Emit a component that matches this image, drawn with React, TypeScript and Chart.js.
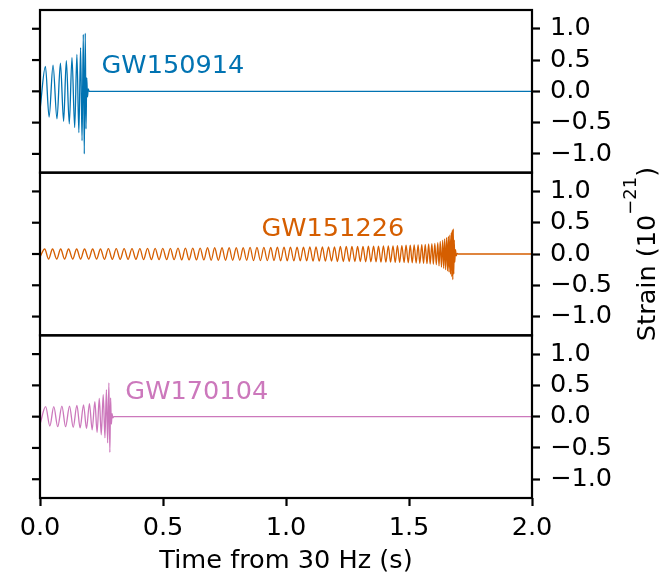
import React, { useEffect, useRef } from 'react';
import { Chart, registerables } from 'chart.js';

Chart.register(...registerables);

// ---------- data ----------
const xTicks = [0.0, 0.5, 1.0, 1.5, 2.0];
const yTicks = [-1.0, -0.5, 0.0, 0.5, 1.0];
const eventNames = ['GW150914', 'GW151226', 'GW170104'];

// GW150914: extrema of the waveform (time in s, strain in 1e-21)
const gw150914Time = [
  0.0, 0.022, 0.037, 0.053, 0.069, 0.083, 0.096, 0.107, 0.119, 0.13, 0.141, 0.15,
  0.158, 0.165, 0.171, 0.176, 0.18, 0.184, 0.187, 0.19, 0.193, 0.196, 0.2, 2.0,
];
const gw150914Strain = [
  -0.3, 0.4, -0.41, 0.42, -0.44, 0.45, -0.48, 0.49, -0.52, 0.54, -0.58, 0.59,
  -0.66, 0.7, -0.79, 0.91, -1.0, 0.93, -0.6, 0.22, -0.09, 0.04, 0.0, 0.0,
];

// GW151226
const gw151226Time = [
  0.0, 0.019, 0.035, 0.051, 0.068, 0.084, 0.1, 0.116, 0.133, 0.149, 0.165, 0.181,
  0.198, 0.214, 0.23, 0.246, 0.262, 0.278, 0.294, 0.31, 0.326, 0.342, 0.358, 0.374,
  0.39, 0.406, 0.421, 0.437, 0.453,
  0.468, 0.484, 0.499, 0.515, 0.53, 0.545, 0.561, 0.576, 0.591, 0.606, 0.621, 0.636,
  0.651, 0.666, 0.681, 0.696, 0.71, 0.725, 0.74, 0.754, 0.769, 0.783, 0.798, 0.812,
  0.826, 0.84, 0.854, 0.868, 0.882,
  0.896, 0.91, 0.924, 0.938, 0.951, 0.965, 0.978, 0.992, 1.005, 1.018, 1.032, 1.045,
  1.058, 1.071, 1.084, 1.097, 1.11, 1.122, 1.135, 1.148, 1.16, 1.173, 1.185, 1.197,
  1.209, 1.221, 1.233, 1.245, 1.257, 1.268, 1.28, 1.291, 1.302,
  1.313, 1.324, 1.335, 1.345, 1.356, 1.366, 1.376, 1.386, 1.396, 1.406, 1.416, 1.425,
  1.435, 1.444, 1.453, 1.462, 1.471, 1.48, 1.488, 1.497, 1.505,
  1.513, 1.521, 1.529, 1.537, 1.544, 1.552, 1.559, 1.566, 1.573, 1.58, 1.586, 1.593,
  1.599, 1.605, 1.611,
  1.617, 1.622, 1.627, 1.632, 1.637, 1.641, 1.645, 1.649, 1.653, 1.657, 1.66, 1.663,
  1.666, 1.669, 1.672, 1.674, 1.676, 1.678, 1.68, 1.682, 1.684, 1.686, 1.689, 1.692,
  1.696, 1.7, 2.0,
];
const gw151226Strain = [
  -0.05, 0.08, -0.08, 0.08, -0.08, 0.08, -0.08, 0.08, -0.08, 0.08, -0.08, 0.08,
  -0.08, 0.08, -0.08, 0.08, -0.085, 0.085, -0.085, 0.085, -0.085, 0.085, -0.085, 0.085,
  -0.085, 0.085, -0.09, 0.09, -0.09,
  0.09, -0.09, 0.09, -0.09, 0.09, -0.09, 0.095, -0.095, 0.095, -0.095, 0.095, -0.095,
  0.095, -0.095, 0.1, -0.1, 0.1, -0.1, 0.1, -0.1, 0.1, -0.1, 0.1, -0.1,
  0.1, -0.1, 0.105, -0.105, 0.105,
  -0.105, 0.105, -0.105, 0.105, -0.105, 0.11, -0.11, 0.11, -0.11, 0.11, -0.11, 0.11,
  -0.11, 0.11, -0.11, 0.115, -0.115, 0.115, -0.115, 0.115, -0.115, 0.115, -0.115, 0.115,
  -0.12, 0.12, -0.12, 0.12, -0.12, 0.12, -0.12, 0.12, -0.12,
  0.12, -0.125, 0.125, -0.125, 0.125, -0.125, 0.125, -0.13, 0.13, -0.13, 0.13, -0.13,
  0.13, -0.135, 0.135, -0.135, 0.135, -0.135, 0.14, -0.14, 0.14,
  -0.14, 0.145, -0.145, 0.145, -0.15, 0.15, -0.15, 0.155, -0.155, 0.16, -0.16, 0.165,
  -0.165, 0.17, -0.17,
  0.18, -0.19, 0.2, -0.21, 0.22, -0.23, 0.24, -0.25, 0.26, -0.27, 0.28, -0.29,
  0.3, -0.32, 0.34, -0.36, 0.38, -0.41, 0.4, -0.32, 0.22, -0.13, 0.07, -0.03,
  0.01, 0.0, 0.0,
];

// GW170104
const gw170104Time = [
  0.0, 0.023, 0.04, 0.056, 0.072, 0.089, 0.104, 0.12, 0.135, 0.15, 0.163, 0.177,
  0.189, 0.201, 0.212, 0.223, 0.232, 0.241, 0.249, 0.257, 0.264, 0.27, 0.275, 0.28,
  0.284, 0.287, 0.29, 0.293, 0.296, 0.3, 2.0,
];
const gw170104Strain = [
  -0.12, 0.16, -0.15, 0.16, -0.16, 0.17, -0.16, 0.17, -0.17, 0.18, -0.18, 0.19,
  -0.19, 0.21, -0.21, 0.24, -0.25, 0.29, -0.29, 0.35, -0.34, 0.43, -0.42, 0.54,
  -0.57, 0.3, -0.12, 0.05, -0.02, 0.0, 0.0,
];

// ---------- styling ----------
const FONT = "'DejaVu Sans', 'Liberation Sans', sans-serif";
const FS = 25.6;
const COLORS = ['#0173B2', '#D55E00', '#CC78BC'];
const LABEL_POS = [
  { t: 0.25, s: 0.29 },
  { t: 0.9, s: 0.28 },
  { t: 0.347, s: 0.29 },
];
const PANEL_IDS = ['y1', 'y2', 'y3'];

const fmt = (v: number) => Number(v).toFixed(1).replace('-', '\u2212');

const panelsPlugin = {
  id: 'panelsPlugin',
  afterDraw(chart: any) {
    const ctx = chart.ctx as CanvasRenderingContext2D;
    const { left, right, top, bottom } = chart.chartArea;
    const xs = chart.scales.x;
    ctx.save();
    ctx.strokeStyle = '#000';
    ctx.lineWidth = 2.2;
    PANEL_IDS.forEach((id, i) => {
      const s = chart.scales[id];
      ctx.strokeRect(left, s.top, right - left, s.bottom - s.top);
      yTicks.forEach((v) => {
        const py = s.getPixelForValue(v);
        ctx.beginPath();
        ctx.moveTo(left - 8, py);
        ctx.lineTo(left, py);
        ctx.stroke();
      });
      // event label
      ctx.font = `${FS}px ${FONT}`;
      ctx.fillStyle = COLORS[i];
      ctx.textAlign = 'left';
      ctx.textBaseline = 'alphabetic';
      ctx.fillText(
        eventNames[i],
        xs.getPixelForValue(LABEL_POS[i].t),
        s.getPixelForValue(LABEL_POS[i].s)
      );
    });

    // right axis title with superscript
    const main = `${FS}px ${FONT}`;
    const sup = `${FS * 0.7}px ${FONT}`;
    const t1 = 'Strain (10';
    const t2 = '\u221221';
    const t3 = ')';
    ctx.font = main;
    const w1 = ctx.measureText(t1).width;
    const w3 = ctx.measureText(t3).width;
    ctx.font = sup;
    const w2 = ctx.measureText(t2).width;
    const total = w1 + w2 + w3;
    ctx.translate(right + 123, (top + bottom) / 2);
    ctx.rotate(-Math.PI / 2);
    ctx.fillStyle = '#000';
    ctx.textAlign = 'left';
    ctx.textBaseline = 'alphabetic';
    const x0 = -total / 2;
    ctx.font = main;
    ctx.fillText(t1, x0, 0);
    ctx.font = sup;
    ctx.fillText(t2, x0 + w1, -19);
    ctx.font = main;
    ctx.fillText(t3, x0 + w1 + w2, 0);
    ctx.restore();
  },
};

const toPoints = (ts: number[], vs: number[]) => ts.map((t, i) => ({ x: t, y: vs[i] }));

const yScale = (id: string) => ({
  type: 'linear' as const,
  position: 'right' as const,
  stack: 'strain',
  stackWeight: 1,
  min: -1.3,
  max: 1.3,
  border: { display: false },
  grid: {
    display: true,
    drawOnChartArea: false,
    drawTicks: true,
    tickLength: 8,
    tickWidth: 2.2,
    tickColor: '#000',
  },
  ticks: {
    color: '#000',
    padding: 10,
    autoSkip: false,
    font: { family: FONT, size: FS },
    callback: (v: any) => fmt(v),
  },
  afterBuildTicks: (s: any) => {
    s.ticks = yTicks.map((v) => ({ value: v }));
  },
  afterFit: (s: any) => {
    s.width = 129;
    s.paddingTop = 0;
    s.paddingBottom = 0;
  },
});

export default function App() {
  const ref = useRef<HTMLCanvasElement>(null);

  useEffect(() => {
    if (!ref.current) return;
    const chart = new Chart(ref.current, {
      type: 'line',
      data: {
        datasets: [
          {
            data: toPoints(gw150914Time, gw150914Strain),
            borderColor: COLORS[0],
            yAxisID: 'y1',
          },
          {
            data: toPoints(gw151226Time, gw151226Strain),
            borderColor: COLORS[1],
            yAxisID: 'y2',
          },
          {
            data: toPoints(gw170104Time, gw170104Strain),
            borderColor: COLORS[2],
            yAxisID: 'y3',
          },
        ].map((d) => ({
          ...d,
          borderWidth: 1.3,
          pointRadius: 0,
          cubicInterpolationMode: 'monotone' as const,
          fill: false,
        })),
      },
      options: {
        responsive: false,
        animation: false,
        events: [],
        layout: { padding: { left: 40, top: 10, right: 0, bottom: 0 } },
        plugins: {
          legend: { display: false },
          tooltip: { enabled: false },
        },
        scales: {
          x: {
            type: 'linear',
            position: 'bottom',
            min: 0,
            max: 2,
            border: { display: false },
            grid: {
              display: true,
              drawOnChartArea: false,
              drawTicks: true,
              tickLength: 8,
              tickWidth: 2.2,
              tickColor: '#000',
            },
            ticks: {
              color: '#000',
              padding: 7,
              maxRotation: 0,
              autoSkip: false,
              font: { family: FONT, size: FS },
              callback: (v: any) => fmt(v),
            },
            afterBuildTicks: (s: any) => {
              s.ticks = xTicks.map((v) => ({ value: v }));
            },
            afterFit: (s: any) => {
              s.height = 80;
              s.paddingLeft = 0;
              s.paddingRight = 0;
            },
            title: {
              display: true,
              text: 'Time from 30 Hz (s)',
              color: '#000',
              font: { family: FONT, size: FS },
              padding: { top: 0, bottom: 1 },
            },
          },
          y1: yScale('y1'),
          y2: yScale('y2'),
          y3: yScale('y3'),
        } as any,
      },
      plugins: [panelsPlugin],
    });
    return () => chart.destroy();
  }, []);

  return (
    <div
      style={{
        position: 'fixed',
        left: 0,
        top: 0,
        width: 661,
        height: 578,
        background: '#fff',
      }}
    >
      <canvas ref={ref} width={661} height={578} style={{ width: 661, height: 578 }} />
    </div>
  );
}
